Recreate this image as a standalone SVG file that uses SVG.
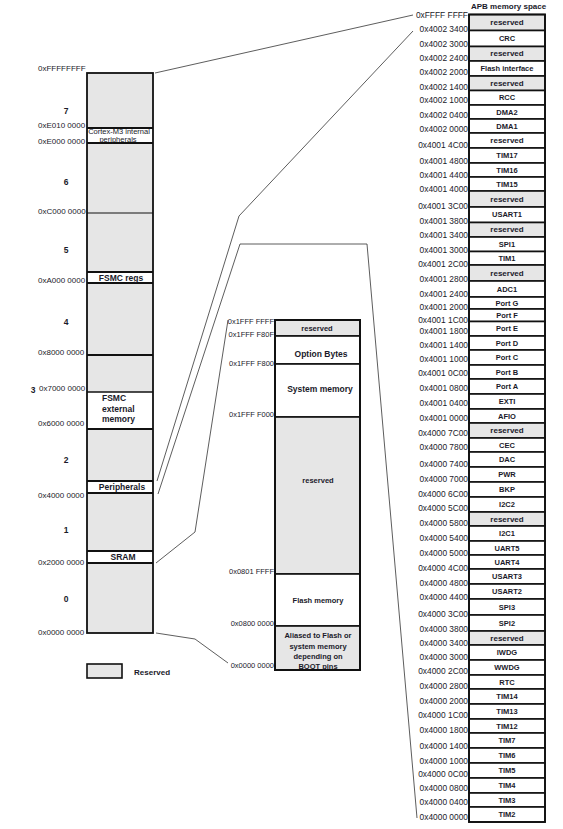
<svg xmlns="http://www.w3.org/2000/svg" width="563" height="829" viewBox="0 0 563 829">
<style>
text{font-family:"Liberation Sans",Arial,sans-serif;fill:#1a1a2a}
.ad{font-size:8px}
.am{font-size:7.5px}
.ar{font-size:8.4px;text-anchor:end}
.lb{font-size:8.5px;font-weight:bold;text-anchor:middle}
.rb{font-size:7.5px;font-weight:bold;text-anchor:middle}
.rv{font-size:8px;font-weight:bold;text-anchor:middle}
.g{fill:#e6e6e6;stroke:#111;stroke-width:1.6}
.w{fill:#fff;stroke:#111;stroke-width:1.6}
.dv{stroke:#111;stroke-width:1.8}
.cn{fill:none;stroke:#333;stroke-width:0.8}
</style>

<g id="connectors">
<polyline class="cn" points="155,73 413,15"/>
<polyline class="cn" points="157,481 239,216 413,31"/>
<polyline class="cn" points="158,494 240,244 367,244 417,818"/>
<polyline class="cn" points="156,563 195,532 228,320"/>
<polyline class="cn" points="156,633 195,639 228,663"/>
</g>

<g id="main-map">
<rect x="87" y="73" width="66" height="560" fill="#e6e6e6"/>
<rect x="87" y="128" width="66" height="15" fill="#fff"/>
<rect x="87" y="272" width="66" height="11" fill="#fff"/>
<rect x="87" y="392" width="66" height="37" fill="#fff"/>
<rect x="87" y="481" width="66" height="12" fill="#fff"/>
<rect x="87" y="551" width="66" height="12" fill="#fff"/>
<g class="dv">
<line x1="87" y1="128" x2="153" y2="128"/>
<line x1="87" y1="143" x2="153" y2="143"/>
<line x1="87" y1="213" x2="153" y2="213" stroke-width="1.2"/>
<line x1="87" y1="272" x2="153" y2="272"/>
<line x1="87" y1="283" x2="153" y2="283"/>
<line x1="87" y1="355" x2="153" y2="355"/>
<line x1="87" y1="392" x2="153" y2="392" stroke-width="1.3"/>
<line x1="87" y1="429" x2="153" y2="429"/>
<line x1="87" y1="481" x2="153" y2="481"/>
<line x1="87" y1="493" x2="153" y2="493"/>
<line x1="87" y1="551" x2="153" y2="551"/>
<line x1="87" y1="563" x2="153" y2="563"/>
</g>
<rect x="87" y="73" width="66" height="560" fill="none" stroke="#111" stroke-width="1.8"/>
<text class="ad" x="38" y="71">0xFFFFFFFF</text>
<text class="ad" x="38" y="128">0xE010 0000</text>
<text class="ad" x="38" y="144">0xE000 0000</text>
<text class="ad" x="38" y="214">0xC000 0000</text>
<text class="ad" x="38" y="283">0xA000 0000</text>
<text class="ad" x="38" y="355">0x8000 0000</text>
<text class="ad" x="39" y="391">0x7000 0000</text>
<text class="ad" x="38" y="426">0x6000 0000</text>
<text class="ad" x="38" y="498">0x4000 0000</text>
<text class="ad" x="38" y="565">0x2000 0000</text>
<text class="ad" x="38" y="635">0x0000 0000</text>
<text class="lb" x="66" y="114">7</text>
<text class="lb" x="66" y="185">6</text>
<text class="lb" x="66" y="253">5</text>
<text class="lb" x="66" y="325">4</text>
<text class="lb" x="33" y="393">3</text>
<text class="lb" x="66" y="463">2</text>
<text class="lb" x="66" y="533">1</text>
<text class="lb" x="66" y="602">0</text>
<text x="119" y="133.5" font-size="7.5" text-anchor="middle">Cortex-M3 internal</text>
<text x="118" y="142" font-size="7.5" text-anchor="middle">peripherals</text>
<text class="lb" x="121" y="280.5">FSMC regs</text>
<text x="102" y="401" font-size="8.5" font-weight="bold">FSMC</text>
<text x="102" y="411.5" font-size="8.5" font-weight="bold">external</text>
<text x="102" y="422" font-size="8.5" font-weight="bold">memory</text>
<text class="lb" x="122" y="490">Peripherals</text>
<text class="lb" x="123" y="560">SRAM</text>
</g>

<g id="legend">
<rect x="87" y="664" width="35" height="14" class="g"/>
<text x="134" y="675" font-size="8" font-weight="bold">Reserved</text>
</g>

<g id="code-map">
<rect x="275" y="320" width="85" height="16" class="g"/>
<rect x="275" y="336" width="85" height="28" class="w"/>
<rect x="275" y="364" width="85" height="53" class="w"/>
<rect x="275" y="417" width="85" height="157" class="g"/>
<rect x="275" y="574" width="85" height="52" class="w"/>
<rect x="275" y="626" width="85" height="44" class="g"/>
<rect x="275" y="320" width="85" height="350" fill="none" stroke="#111" stroke-width="2"/>
<text class="am" x="274" y="324" text-anchor="end">0x1FFF FFFF</text>
<text class="am" x="274" y="337" text-anchor="end">0x1FFF F80F</text>
<text class="am" x="274" y="366" text-anchor="end">0x1FFF F800</text>
<text class="am" x="274" y="417" text-anchor="end">0x1FFF F000</text>
<text class="am" x="274" y="574" text-anchor="end">0x0801 FFFF</text>
<text class="am" x="274" y="626" text-anchor="end">0x0800 0000</text>
<text class="am" x="274" y="668" text-anchor="end">0x0000 0000</text>
<text class="rb" x="317" y="330.5">reserved</text>
<text class="lb" x="321" y="356.5">Option Bytes</text>
<text class="lb" x="320" y="392">System memory</text>
<text class="rb" x="318" y="483">reserved</text>
<text class="rb" x="318" y="603">Flash memory</text>
<text class="rb" x="318" y="638">Aliased to Flash or</text>
<text class="rb" x="318" y="648.5">system memory</text>
<text class="rb" x="318" y="658.5">depending on</text>
<text class="rb" x="318" y="668.5">BOOT pins</text>
</g>

<g id="apb-map">
<text x="471" y="9" font-size="8" font-weight="bold">APB memory space</text>
<g id="r1"><rect x="469" y="14.5" width="76" height="16" class="g"/><text class="rv" x="507" y="25">reserved</text></g>
<g id="r2"><rect x="469" y="30.5" width="76" height="16" class="w"/><text class="rb" x="507" y="41">CRC</text></g>
<g id="r3"><rect x="469" y="46.5" width="76" height="14.5" class="g"/><text class="rv" x="507" y="56.3">reserved</text></g>
<g id="r4"><rect x="469" y="61" width="76" height="15" class="w"/><text class="rb" x="507" y="71">Flash interface</text></g>
<g id="r5"><rect x="469" y="76" width="76" height="14.5" class="g"/><text class="rv" x="507" y="85.8">reserved</text></g>
<g id="r6"><rect x="469" y="90.5" width="76" height="14.5" class="w"/><text class="rb" x="507" y="100.3">RCC</text></g>
<g id="r7"><rect x="469" y="105" width="76" height="14" class="w"/><text class="rb" x="507" y="114.5">DMA2</text></g>
<g id="r8"><rect x="469" y="119" width="76" height="14" class="w"/><text class="rb" x="507" y="128.5">DMA1</text></g>
<g id="r9"><rect x="469" y="133" width="76" height="15" class="w"/><text class="rv" x="507" y="143">reserved</text></g>
<g id="r10"><rect x="469" y="148" width="76" height="15" class="w"/><text class="rb" x="507" y="158">TIM17</text></g>
<g id="r11"><rect x="469" y="163" width="76" height="14" class="w"/><text class="rb" x="507" y="172.5">TIM16</text></g>
<g id="r12"><rect x="469" y="177" width="76" height="14" class="w"/><text class="rb" x="507" y="186.5">TIM15</text></g>
<g id="r13"><rect x="469" y="191" width="76" height="16" class="g"/><text class="rv" x="507" y="201.5">reserved</text></g>
<g id="r14"><rect x="469" y="207" width="76" height="15.5" class="w"/><text class="rb" x="507" y="217.3">USART1</text></g>
<g id="r15"><rect x="469" y="222.5" width="76" height="14.5" class="g"/><text class="rv" x="507" y="232.3">reserved</text></g>
<g id="r16"><rect x="469" y="237" width="76" height="14.5" class="w"/><text class="rb" x="507" y="246.8">SPI1</text></g>
<g id="r17"><rect x="469" y="251.5" width="76" height="13.5" class="w"/><text class="rb" x="507" y="260.8">TIM1</text></g>
<g id="r18"><rect x="469" y="265" width="76" height="16" class="g"/><text class="rv" x="507" y="275.5">reserved</text></g>
<g id="r19"><rect x="469" y="281" width="76" height="16" class="w"/><text class="rb" x="507" y="291.5">ADC1</text></g>
<g id="r20"><rect x="469" y="297" width="76" height="12" class="w"/><text class="rb" x="507" y="305.5">Port G</text></g>
<g id="r21"><rect x="469" y="309" width="76" height="12.5" class="w"/><text class="rb" x="507" y="317.8">Port F</text></g>
<g id="r22"><rect x="469" y="321.5" width="76" height="14.5" class="w"/><text class="rb" x="507" y="331.3">Port E</text></g>
<g id="r23"><rect x="469" y="336" width="76" height="14" class="w"/><text class="rb" x="507" y="345.5">Port D</text></g>
<g id="r24"><rect x="469" y="350" width="76" height="15" class="w"/><text class="rb" x="507" y="360">Port C</text></g>
<g id="r25"><rect x="469" y="365" width="76" height="14" class="w"/><text class="rb" x="507" y="374.5">Port B</text></g>
<g id="r26"><rect x="469" y="379" width="76" height="15" class="w"/><text class="rb" x="507" y="389">Port A</text></g>
<g id="r27"><rect x="469" y="394" width="76" height="15" class="w"/><text class="rb" x="507" y="404">EXTI</text></g>
<g id="r28"><rect x="469" y="409" width="76" height="14" class="w"/><text class="rb" x="507" y="418.5">AFIO</text></g>
<g id="r29"><rect x="469" y="423" width="76" height="15" class="g"/><text class="rv" x="507" y="433">reserved</text></g>
<g id="r30"><rect x="469" y="438" width="76" height="14" class="w"/><text class="rb" x="507" y="447.5">CEC</text></g>
<g id="r31"><rect x="469" y="452" width="76" height="15" class="w"/><text class="rb" x="507" y="462">DAC</text></g>
<g id="r32"><rect x="469" y="467" width="76" height="15" class="w"/><text class="rb" x="507" y="477">PWR</text></g>
<g id="r33"><rect x="469" y="482" width="76" height="15" class="w"/><text class="rb" x="507" y="492">BKP</text></g>
<g id="r34"><rect x="469" y="497" width="76" height="15" class="w"/><text class="rb" x="507" y="507">I2C2</text></g>
<g id="r35"><rect x="469" y="512" width="76" height="14" class="g"/><text class="rv" x="507" y="521.5">reserved</text></g>
<g id="r36"><rect x="469" y="526" width="76" height="15" class="w"/><text class="rb" x="507" y="536">I2C1</text></g>
<g id="r37"><rect x="469" y="541" width="76" height="14" class="w"/><text class="rb" x="507" y="550.5">UART5</text></g>
<g id="r38"><rect x="469" y="555" width="76" height="14" class="w"/><text class="rb" x="507" y="564.5">UART4</text></g>
<g id="r39"><rect x="469" y="569" width="76" height="15" class="w"/><text class="rb" x="507" y="579">USART3</text></g>
<g id="r40"><rect x="469" y="584" width="76" height="15" class="w"/><text class="rb" x="507" y="594">USART2</text></g>
<g id="r41"><rect x="469" y="599" width="76" height="16" class="w"/><text class="rb" x="507" y="609.5">SPI3</text></g>
<g id="r42"><rect x="469" y="615" width="76" height="16" class="w"/><text class="rb" x="507" y="625.5">SPI2</text></g>
<g id="r43"><rect x="469" y="631" width="76" height="14" class="g"/><text class="rv" x="507" y="640.5">reserved</text></g>
<g id="r44"><rect x="469" y="645" width="76" height="15" class="w"/><text class="rb" x="507" y="655">IWDG</text></g>
<g id="r45"><rect x="469" y="660" width="76" height="15" class="w"/><text class="rb" x="507" y="670">WWDG</text></g>
<g id="r46"><rect x="469" y="675" width="76" height="14" class="w"/><text class="rb" x="507" y="684.5">RTC</text></g>
<g id="r47"><rect x="469" y="689" width="76" height="15" class="w"/><text class="rb" x="507" y="699">TIM14</text></g>
<g id="r48"><rect x="469" y="704" width="76" height="15" class="w"/><text class="rb" x="507" y="714">TIM13</text></g>
<g id="r49"><rect x="469" y="719" width="76" height="14" class="w"/><text class="rb" x="507" y="728.5">TIM12</text></g>
<g id="r50"><rect x="469" y="733" width="76" height="15" class="w"/><text class="rb" x="507" y="743">TIM7</text></g>
<g id="r51"><rect x="469" y="748" width="76" height="15" class="w"/><text class="rb" x="507" y="758">TIM6</text></g>
<g id="r52"><rect x="469" y="763" width="76" height="15" class="w"/><text class="rb" x="507" y="773">TIM5</text></g>
<g id="r53"><rect x="469" y="778" width="76" height="15" class="w"/><text class="rb" x="507" y="788">TIM4</text></g>
<g id="r54"><rect x="469" y="793" width="76" height="14" class="w"/><text class="rb" x="507" y="802.5">TIM3</text></g>
<g id="r55"><rect x="469" y="807" width="76" height="15" class="w"/><text class="rb" x="507" y="817">TIM2</text></g>
<rect x="469" y="14.5" width="76" height="807.5" fill="none" stroke="#111" stroke-width="1.8"/>
<g class="ar">
<text x="468" y="17.5">0xFFFF FFFF</text>
<text x="468" y="32">0x4002 3400</text>
<text x="468" y="47">0x4002 3000</text>
<text x="468" y="61">0x4002 2400</text>
<text x="468" y="75">0x4002 2000</text>
<text x="468" y="90">0x4002 1400</text>
<text x="468" y="103">0x4002 1000</text>
<text x="468" y="118">0x4002 0400</text>
<text x="468" y="132">0x4002 0000</text>
<text x="468" y="148">0x4001 4C00</text>
<text x="468" y="164">0x4001 4800</text>
<text x="468" y="178">0x4001 4400</text>
<text x="468" y="192">0x4001 4000</text>
<text x="468" y="209">0x4001 3C00</text>
<text x="468" y="224">0x4001 3800</text>
<text x="468" y="238">0x4001 3400</text>
<text x="468" y="253">0x4001 3000</text>
<text x="468" y="267">0x4001 2C00</text>
<text x="468" y="282">0x4001 2800</text>
<text x="468" y="297">0x4001 2400</text>
<text x="468" y="309.5">0x4001 2000</text>
<text x="468" y="322.5">0x4001 1C00</text>
<text x="468" y="333.5">0x4001 1800</text>
<text x="468" y="348">0x4001 1400</text>
<text x="468" y="362">0x4001 1000</text>
<text x="468" y="376">0x4001 0C00</text>
<text x="468" y="391">0x4001 0800</text>
<text x="468" y="406">0x4001 0400</text>
<text x="468" y="421">0x4001 0000</text>
<text x="468" y="435.5">0x4000 7C00</text>
<text x="468" y="449.5">0x4000 7800</text>
<text x="468" y="467">0x4000 7400</text>
<text x="468" y="481.5">0x4000 7000</text>
<text x="468" y="496.5">0x4000 6C00</text>
<text x="468" y="511">0x4000 5C00</text>
<text x="468" y="526">0x4000 5800</text>
<text x="468" y="540.5">0x4000 5400</text>
<text x="468" y="555.5">0x4000 5000</text>
<text x="468" y="570.5">0x4000 4C00</text>
<text x="468" y="585.5">0x4000 4800</text>
<text x="468" y="599.5">0x4000 4400</text>
<text x="468" y="617">0x4000 3C00</text>
<text x="468" y="632">0x4000 3800</text>
<text x="468" y="645.5">0x4000 3400</text>
<text x="468" y="660">0x4000 3000</text>
<text x="468" y="674">0x4000 2C00</text>
<text x="468" y="689">0x4000 2800</text>
<text x="468" y="703.5">0x4000 2000</text>
<text x="468" y="718">0x4000 1C00</text>
<text x="468" y="733">0x4000 1800</text>
<text x="468" y="748.5">0x4000 1400</text>
<text x="468" y="763.5">0x4000 1000</text>
<text x="468" y="777">0x4000 0C00</text>
<text x="468" y="791">0x4000 0800</text>
<text x="468" y="805">0x4000 0400</text>
<text x="468" y="820">0x4000 0000</text>
</g>
</g>
</svg>
